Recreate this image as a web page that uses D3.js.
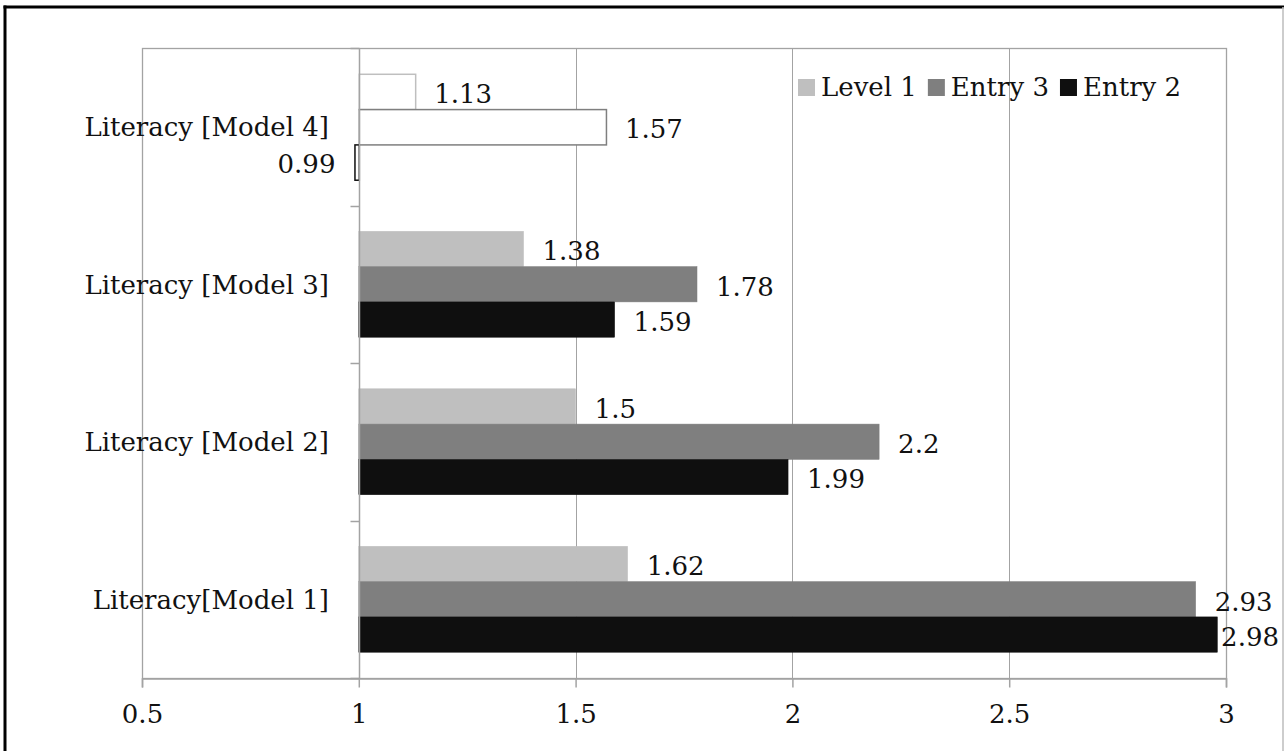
<!DOCTYPE html>
<html>
<head>
<meta charset="utf-8">
<script src="https://cdn.jsdelivr.net/npm/d3@7"></script>
<style>
  html, body { margin: 0; padding: 0; background: #fff; }
  svg { display: block; }
  text { font-family: "DejaVu Serif", "Liberation Serif", serif; fill: #111; }
</style>
</head>
<body>
<svg id="chart" width="1285" height="751"></svg>
<script>
// Categories listed top to bottom
const categories = ["Literacy [Model 4]", "Literacy [Model 3]", "Literacy [Model 2]", "Literacy[Model 1]"];
// Series listed in the order their bars stack inside each category (top to bottom)
const seriesNames = ["Level 1", "Entry 3", "Entry 2"];
const seriesColors = ["#bfbfbf", "#7f7f7f", "#0f0f0f"];
// Values per category, in seriesNames order
const level1 = [1.13, 1.38, 1.5, 1.62];
const entry3 = [1.57, 1.78, 2.2, 2.93];
const entry2 = [0.99, 1.59, 1.99, 2.98];
// Category whose bars are drawn hollow (outline only)
const hollowCategory = "Literacy [Model 4]";
const xTicks = [0.5, 1, 1.5, 2, 2.5, 3];

const seriesValues = [level1, entry3, entry2];
const rows = [];
categories.forEach((c, i) => {
  seriesNames.forEach((s, j) => {
    rows.push({ category: c, series: s, color: seriesColors[j], value: seriesValues[j][i] });
  });
});

const svg = d3.select("#chart");
const W = 1285, H = 751;
const plot = { left: 142, right: 1226, top: 48, bottom: 678 };
const baseValue = 1;
const fontSize = 26;
const fontFamily = "DejaVu Serif, Liberation Serif, serif";

// Outer chart frame
svg.append("rect").attr("x", 0).attr("y", 0).attr("width", W).attr("height", H).attr("fill", "#fff");
svg.append("line").attr("x1", 5).attr("x2", 5).attr("y1", 5.5).attr("y2", H).attr("stroke", "#000").attr("stroke-width", 3);
svg.append("line").attr("x1", 3.5).attr("x2", 1284).attr("y1", 7).attr("y2", 7).attr("stroke", "#000").attr("stroke-width", 3);
svg.append("line").attr("x1", 1283).attr("x2", 1283).attr("y1", 7).attr("y2", H).attr("stroke", "#bdbdbd").attr("stroke-width", 1.5);

const x = d3.scaleLinear().domain([0.5, 3]).range([plot.left, plot.right]);
const y = d3.scaleBand().domain(categories).range([plot.top, plot.bottom]).padding(0);
const ys = d3.scaleBand().domain(seriesNames).range([0, y.bandwidth()]).paddingInner(0).paddingOuter(0.73);

const gridColor = "#a3a3a3";

// Vertical gridlines
svg.append("g").selectAll("line")
  .data(xTicks.filter(t => t > 0.5 && t < 3))
  .join("line")
  .attr("x1", d => Math.round(x(d)) + 0.5).attr("x2", d => Math.round(x(d)) + 0.5)
  .attr("y1", plot.top).attr("y2", plot.bottom)
  .attr("stroke", gridColor).attr("stroke-width", 1);

// Plot area border
svg.append("rect")
  .attr("x", plot.left + 0.5).attr("y", plot.top + 0.5)
  .attr("width", plot.right - plot.left).attr("height", plot.bottom - plot.top)
  .attr("fill", "none").attr("stroke", gridColor).attr("stroke-width", 1.3);

// Bars, drawn from the base value of 1
const bars = svg.append("g");
rows.forEach(d => {
  const hollow = d.category === hollowCategory;
  const x0 = x(Math.min(d.value, baseValue));
  const x1 = x(Math.max(d.value, baseValue));
  bars.append("rect")
    .attr("x", x0 + (hollow ? 0.5 : 0))
    .attr("y", y(d.category) + ys(d.series) + (hollow ? 0.5 : 0))
    .attr("width", x1 - x0)
    .attr("height", ys.bandwidth())
    .attr("fill", hollow ? "#fff" : d.color)
    .attr("stroke", d.color)
    .attr("stroke-width", hollow ? 1.5 : 0.5);
});

// Category axis at x = 1
const yAxisX = Math.round(x(baseValue)) + 0.5;
svg.append("line")
  .attr("x1", yAxisX).attr("x2", yAxisX)
  .attr("y1", plot.top).attr("y2", plot.bottom)
  .attr("stroke", gridColor).attr("stroke-width", 1.5);
const bounds = categories.map(c => y(c)).concat([plot.bottom]);
svg.append("g").selectAll("line")
  .data(bounds)
  .join("line")
  .attr("x1", yAxisX - 9).attr("x2", yAxisX)
  .attr("y1", d => Math.round(d) + 0.5).attr("y2", d => Math.round(d) + 0.5)
  .attr("stroke", gridColor).attr("stroke-width", 1.5);

svg.append("g").selectAll("text")
  .data(categories)
  .join("text")
  .attr("x", 329)
  .attr("y", d => y(d) + y.bandwidth() / 2)
  .attr("dy", "0.36em")
  .attr("text-anchor", "end")
  .attr("font-size", fontSize)
  .text(d => d);

// Value axis along the bottom
const xAxis = d3.axisBottom(x).tickValues(xTicks).tickSize(9).tickPadding(16).tickFormat(d3.format("~g"));
const gx = svg.append("g").attr("transform", `translate(0,${plot.bottom + 0.5})`).call(xAxis);
gx.attr("font-family", fontFamily).attr("font-size", fontSize);
gx.select(".domain").attr("stroke", gridColor).attr("stroke-width", 1.5);
gx.selectAll(".tick line").attr("stroke", gridColor).attr("stroke-width", 1.5);
gx.selectAll(".tick text")
  .attr("font-size", fontSize)
  .attr("fill", "#111")
  .attr("dy", "0.76em");

// Data labels
const labelGap = 19;
const labelLimit = 1279;
const labels = svg.append("g");
rows.forEach(d => {
  const cy = y(d.category) + ys(d.series) + ys.bandwidth() / 2 + 2;
  const t = labels.append("text")
    .attr("y", cy)
    .attr("dy", "0.36em")
    .attr("font-size", fontSize)
    .text(d3.format("~g")(d.value));
  if (d.value < baseValue) {
    t.attr("x", x(d.value) - labelGap).attr("text-anchor", "end");
  } else {
    const lx = x(d.value) + labelGap;
    const w = t.node().getComputedTextLength();
    if (lx + w > labelLimit) {
      t.attr("x", labelLimit).attr("text-anchor", "end");
    } else {
      t.attr("x", lx).attr("text-anchor", "start");
    }
  }
});

// Legend
const legend = svg.append("g");
let lxPos = 798;
const sw = 17;
seriesNames.forEach((s, i) => {
  legend.append("rect")
    .attr("x", lxPos).attr("y", 79)
    .attr("width", sw).attr("height", sw)
    .attr("fill", seriesColors[i]);
  const t = legend.append("text")
    .attr("x", lxPos + sw + 6).attr("y", 96)
    .attr("font-size", fontSize)
    .text(s);
  lxPos += sw + 6 + t.node().getComputedTextLength() + 11;
});
</script>
</body>
</html>
